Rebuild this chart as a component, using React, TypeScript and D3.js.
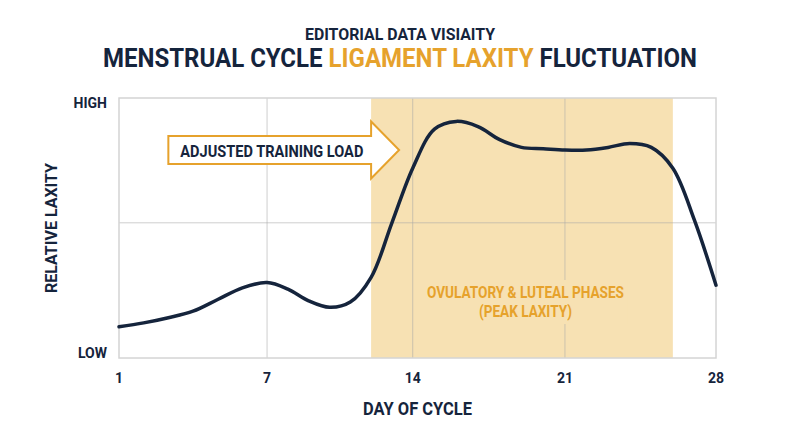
import * as d3 from 'd3'

// days of the cycle and relative laxity (0 = low, 1 = high)
const DAYS = [1, 2, 3, 4, 5, 6, 7, 8, 9, 10, 11, 12, 13, 14, 15, 16, 17, 18, 19, 20, 21, 22, 23, 24, 25, 26, 27, 28]
const LAXITY = [
  0.12, 0.135, 0.155, 0.18, 0.225, 0.27, 0.29, 0.265, 0.22, 0.195, 0.215, 0.31, 0.52, 0.73,
  0.88, 0.91, 0.89, 0.84, 0.81, 0.805, 0.8, 0.8, 0.81, 0.825, 0.81, 0.73, 0.53, 0.28,
]
const X_TICKS = [1, 7, 14, 21, 28]
const Y_LABELS = [
  { value: 1, label: 'HIGH' },
  { value: 0, label: 'LOW' },
]
const Y_GRID = [0.52]
const PHASE = { start: 12, end: 26 }
const ARROW = { from: 3, to: 12, level: 0.8 }

const W = 800
const H = 447
const margin = { top: 98, right: 84, bottom: 89, left: 119 }
// where each tick sits along the axis (the ticks are spaced by week, not by day)
const TICK_FRAC = [0, 0.248, 0.492, 0.747, 1]

const NAVY = '#15243c'
const ORANGE = '#e6a22c'
const SHADE = '#f7e1b3'
const FONT = 'Roboto, "Open Sans", sans-serif'

export default function App() {
  const innerW = W - margin.left - margin.right
  const x = d3
    .scaleLinear()
    .domain(X_TICKS)
    .range(TICK_FRAC.map(f => margin.left + f * innerW))
  const y = d3.scaleLinear().domain([0, 1]).range([H - margin.bottom, margin.top])

  const points = DAYS.map((d, i) => [d, LAXITY[i]] as [number, number])
  const line = d3
    .line<[number, number]>()
    .x(d => x(d[0]))
    .y(d => y(d[1]))
    .curve(d3.curveCatmullRom.alpha(0.5))

  const x0 = margin.left
  const x1 = W - margin.right
  const y0 = margin.top
  const y1 = H - margin.bottom

  // arrow shape
  const ay = y(ARROW.level)
  const ax0 = x(ARROW.from)
  const ax1 = x(ARROW.to)
  const tip = ax1 + 28
  const arrowPath = [
    [ax0, ay - 14], [ax1, ay - 14], [ax1, ay - 28.5], [tip, ay],
    [ax1, ay + 28.5], [ax1, ay + 14], [ax0, ay + 14],
  ]
  const phaseMid = x((PHASE.start + PHASE.end) / 2) + 4

  return (
    <svg
      width={W}
      height={H}
      style={{ position: 'absolute', left: 0, top: 0, background: '#fff' }}
      fontFamily={FONT}
      fontWeight={700}
    >
      {/* titles */}
      <text x={W / 2} y={40} textAnchor="middle" fill={NAVY} fontSize={17} textLength={190} lengthAdjust="spacingAndGlyphs">
        EDITORIAL DATA VISIAITY
      </text>
      <text x={W / 2} y={67} textAnchor="middle" fill={NAVY} fontSize={25.5} textLength={594} lengthAdjust="spacingAndGlyphs">
        MENSTRUAL CYCLE <tspan fill={ORANGE}>LIGAMENT LAXITY</tspan> FLUCTUATION
      </text>

      {/* phase shading */}
      <rect x={x(PHASE.start)} y={y0} width={x(PHASE.end) - x(PHASE.start)} height={y1 - y0} fill={SHADE} />

      {/* grid */}
      {X_TICKS.slice(1, -1).map(t => (
        <line key={t} x1={x(t)} x2={x(t)} y1={y0} y2={y1} stroke="#a8a8a8" strokeOpacity={0.55} strokeWidth={1} />
      ))}
      {Y_GRID.map(v => (
        <line key={v} x1={x0} x2={x1} y1={y(v)} y2={y(v)} stroke="#a8a8a8" strokeOpacity={0.55} strokeWidth={1} />
      ))}
      <rect x={x0} y={y0} width={x1 - x0} height={y1 - y0} fill="none" stroke="#d4d4d4" strokeWidth={1.5} />

      {/* phase label */}
      <rect x={phaseMid - 102} y={y(0.3)} width={204} height={44} fill={SHADE} />
      <text x={phaseMid} y={298} textAnchor="middle" fill={ORANGE} fontSize={16} textLength={197} lengthAdjust="spacingAndGlyphs">
        OVULATORY &amp; LUTEAL PHASES
      </text>
      <text x={phaseMid} y={317} textAnchor="middle" fill={ORANGE} fontSize={16} textLength={93} lengthAdjust="spacingAndGlyphs">
        (PEAK LAXITY)
      </text>

      {/* arrow */}
      <path d={'M' + arrowPath.map(p => p.join(',')).join('L') + 'Z'} fill="#fff" stroke={ORANGE} strokeWidth={2} strokeLinejoin="miter" />
      <text x={ax0 + 12} y={ay + 6.5} fill={NAVY} fontSize={17} textLength={183} lengthAdjust="spacingAndGlyphs">
        ADJUSTED TRAINING LOAD
      </text>

      {/* curve */}
      <path d={line(points) ?? ''} fill="none" stroke={NAVY} strokeWidth={3.5} strokeLinecap="round" />

      {/* axes labels */}
      {X_TICKS.map(t => (
        <text key={t} x={x(t)} y={383} textAnchor="middle" fill={NAVY} fontSize={14}>
          {t}
        </text>
      ))}
      {Y_LABELS.map(d => (
        <text key={d.label} x={107} y={y(d.value) + (d.value === 1 ? 10 : 0)} textAnchor="end" fill={NAVY} fontSize={14}>
          {d.label}
        </text>
      ))}
      <text x={(x0 + x1) / 2} y={415} textAnchor="middle" fill={NAVY} fontSize={18} textLength={109} lengthAdjust="spacingAndGlyphs">
        DAY OF CYCLE
      </text>
      <text
        transform={`translate(57,${(y0 + y1) / 2}) rotate(-90)`}
        textAnchor="middle"
        fill={NAVY}
        fontSize={17}
        textLength={130}
        lengthAdjust="spacingAndGlyphs"
      >
        RELATIVE LAXITY
      </text>
    </svg>
  )
}
